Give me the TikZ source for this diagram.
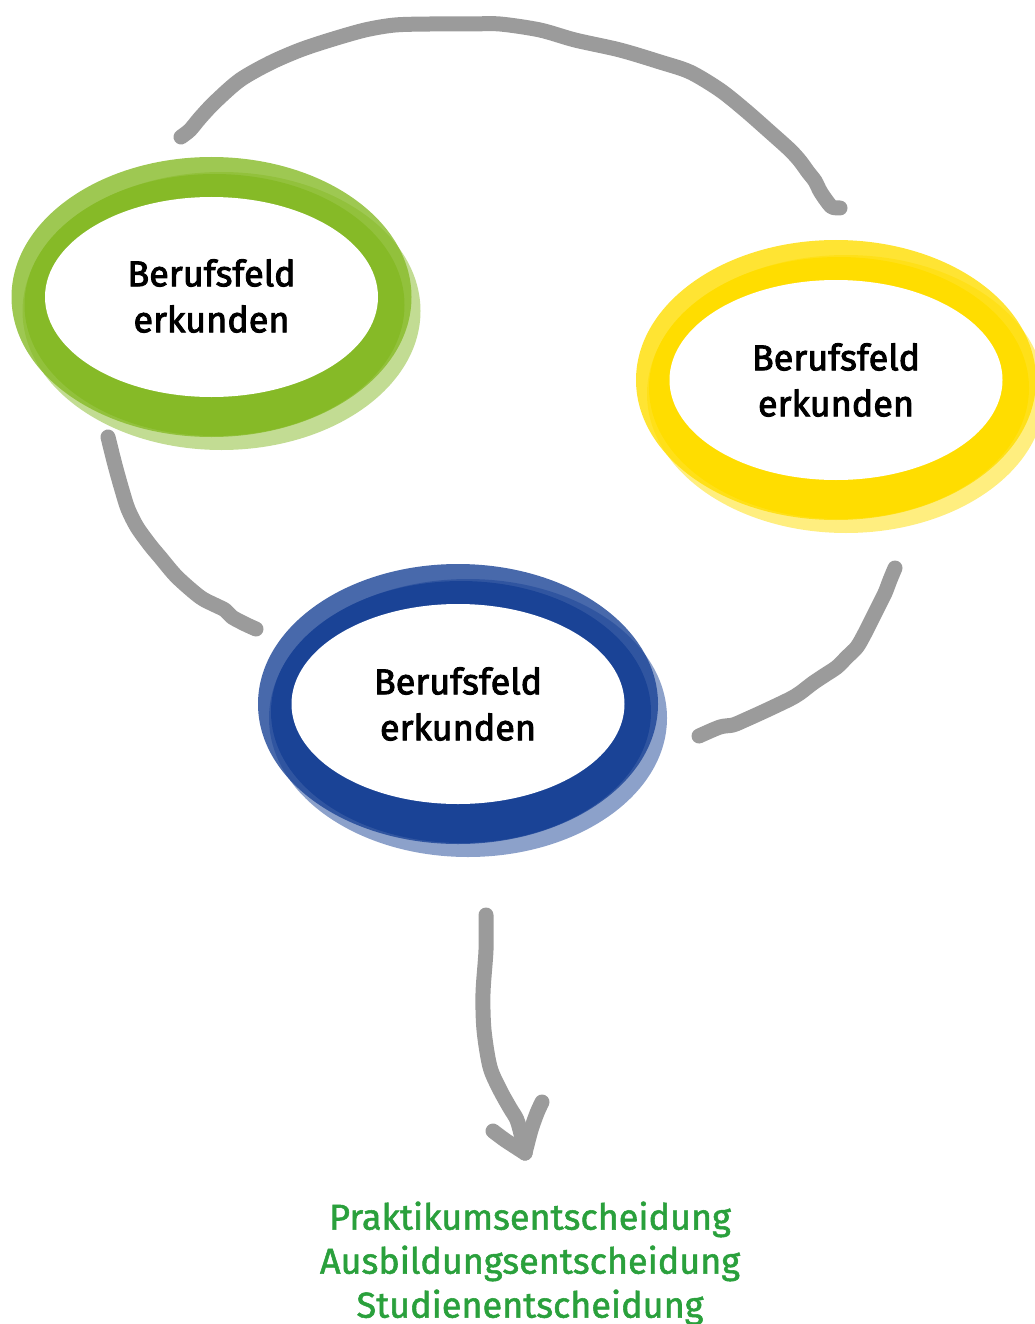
\documentclass[tikz,border=0pt]{standalone}
\usepackage{fontspec}
\setmainfont{Fira Sans}
\newfontfamily\labelfont[FakeBold=2.5]{Fira Sans}
\newfontfamily\greenfont[FakeBold=1.5]{Fira Sans}
\definecolor{ringgreen}{RGB}{134,186,39}
\definecolor{ringblue}{RGB}{26,67,150}
\definecolor{ringyellow}{RGB}{255,221,0}
\definecolor{wiregray}{RGB}{155,155,155}
\definecolor{textgreen}{RGB}{42,160,60}
\tikzset{
  wire/.style={draw=wiregray, line width=15pt, line cap=round, line join=round},
  ringlabel/.style={align=center, font=\labelfont\fontsize{36}{46}\selectfont, text=black},
  result/.style={align=center, font=\greenfont\fontsize{36}{44}\selectfont, text=textgreen},
}
\newcommand{\ringshape}[3]{%
  % #1 = name, #2 = centre, #3 = colour
  \begin{scope}[shift={#2}]
    \fill[#3, opacity=0.5] (10,14) ellipse [x radius=199, y radius=139];
    \fill[#3, opacity=0.8] (0,0) ellipse [x radius=200, y radius=140];
    \fill[#3] (3,8) ellipse [x radius=190, y radius=131];
    \fill[white] (0,0) ellipse [x radius=166.5, y radius=100];
  \end{scope}
}
\begin{document}
\begin{tikzpicture}[x=1pt, y=-1pt]
\useasboundingbox (0,0) rectangle (1035,1324);
\clip (0,0) rectangle (1035,1324);

\ringshape{g}{(211.5,297)}{ringgreen}
\ringshape{y}{(836,380)}{ringyellow}
\ringshape{b}{(458,704)}{ringblue}

\node[ringlabel] (green) at (211.5,296) {Berufsfeld\\erkunden};
\node[ringlabel] (yellow) at (836,380) {Berufsfeld\\erkunden};
\node[ringlabel] (blue) at (458,704) {Berufsfeld\\erkunden};

\node[result, anchor=north] (res) at (530,1198) {Praktikumsentscheidung\\Ausbildungsentscheidung\\Studienentscheidung};

% connector endpoints
\coordinate (t1) at (181,137);
\coordinate (t2) at (840,208);
\coordinate (l1) at (108,437);
\coordinate (l2) at (256,629);
\coordinate (r1) at (895,568);
\coordinate (r2) at (699,736);
\coordinate (a1) at (486,915);
\coordinate (a2) at (525,1153);
\coordinate (bl) at (493,1131);
\coordinate (br) at (542,1102);

% top: green -> yellow
\draw[wire] plot[smooth, tension=0.5] coordinates {(t1) (190,130) (200,118) (215,102) (240,80) (270,63) (300,50) (330,40) (365,30) (395,25) (430,24) (470,24) (500,24) (540,30) (575,40) (620,50) (660,62) (690,72) (720,90) (745,110) (770,132) (790,150) (800,161) (808,172) (815,181) (820,191) (826,200) (832,207) (t2)};

% left: green -> blue
\draw[wire] plot[smooth, tension=0.5] coordinates {(l1) (115,465) (122,490) (128,509) (137,527) (150,545) (160,557) (177,577) (200,597) (215,605) (225,610) (232,617) (245,624) (l2)};

% right: yellow -> blue
\draw[wire] plot[smooth, tension=0.5] coordinates {(r1) (890,580) (885,593) (878,607) (873,617) (865,633) (857,647) (847,657) (837,667) (825,675) (813,683) (800,693) (790,699) (767,710) (745,720) (733,725) (720,727) (r2)};

% arrow down to the result
\draw[wire] plot[smooth, tension=0.5] coordinates {(a1) (486,950) (483,993) (484,1030) (490,1067) (500,1090) (510,1108) (517,1120) (522,1138) (a2)};
\draw[wire] plot[smooth, tension=0.5] coordinates {(bl) (505,1140) (a2)};
\draw[wire] plot[smooth, tension=0.5] coordinates {(br) (537,1113) (531,1130) (a2)};
\end{tikzpicture}
\end{document}
